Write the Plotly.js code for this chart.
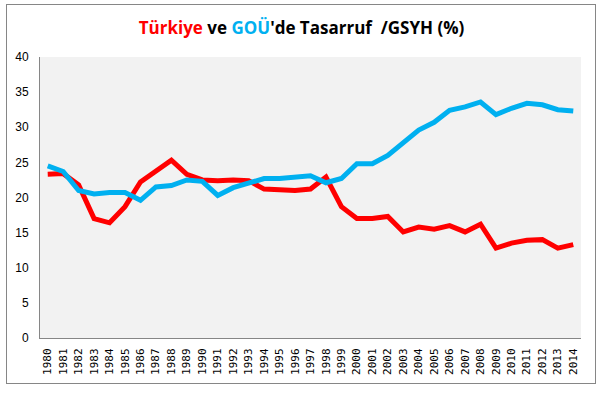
<!DOCTYPE html>
<html>
<head>
<meta charset="utf-8">
<script src="https://cdn.plot.ly/plotly-3.0.1.min.js"></script>
<style>
body{margin:0;padding:0;background:#fff;}
#wrap{position:relative;width:603px;height:397px;}
#chart{width:603px;height:397px;}
#frame{position:absolute;left:6px;top:4px;width:588px;height:378px;border:1px solid #868686;pointer-events:none;}
</style>
</head>
<body>
<div id="wrap"><div id="chart"></div><div id="frame"></div></div>
<script>
const years = ['1980','1981','1982','1983','1984','1985','1986','1987','1988','1989','1990','1991','1992','1993','1994','1995','1996','1997','1998','1999','2000','2001','2002','2003','2004','2005','2006','2007','2008','2009','2010','2011','2012','2013','2014'];
const turkiye = [23.3,23.4,21.8,17.0,16.4,18.7,22.2,23.7,25.3,23.3,22.5,22.4,22.5,22.4,21.2,21.1,21.0,21.2,22.9,18.7,17.0,17.0,17.3,15.1,15.8,15.5,16.0,15.1,16.2,12.8,13.5,13.9,14.0,12.8,13.3];
const gou = [24.5,23.7,21.0,20.5,20.7,20.7,19.6,21.5,21.7,22.5,22.3,20.3,21.4,22.0,22.7,22.7,22.9,23.1,22.1,22.7,24.8,24.8,26.0,27.9,29.6,30.7,32.4,32.9,33.6,31.8,32.7,33.4,33.2,32.5,32.3];
const yTicks = [0,5,10,15,20,25,30,35,40];

const traces = [
  {x: years, y: turkiye, type:'scatter', mode:'lines', name:'Türkiye',
   line:{color:'#FF0000', width:5, shape:'linear'}},
  {x: years, y: gou, type:'scatter', mode:'lines', name:'GOÜ',
   line:{color:'#00B0F0', width:5, shape:'linear'}}
];

const layout = {
  width:603, height:397,
  margin:{l:40, r:22, t:57, b:59},
  paper_bgcolor:'#ffffff',
  plot_bgcolor:'#F2F2F2',
  showlegend:false,
  title:{
    text:"<span style='color:#FF0000'>Türkiye</span> ve <span style='color:#00B0F0'>GOÜ</span>'de Tasarruf \u00a0/GSYH (%)",
    font:{family:'Open Sans', size:17, color:'#000000', weight:'bold'},
    x:0.5, xanchor:'center', y:0.93, yanchor:'middle'
  },
  xaxis:{
    type:'category',
    tickvals: years, ticktext: years,
    tickangle:-90,
    tickfont:{family:'DejaVu Sans Mono', size:11, color:'#000'},
    showgrid:false, zeroline:false,
    showline:true, linecolor:'#868686', linewidth:1,
    ticks:'', ticklabelstandoff:5,
    range:[-0.5, years.length-0.5],
    fixedrange:true
  },
  yaxis:{
    range:[0,40],
    tickvals: yTicks, ticktext: yTicks.map(String),
    tickfont:{family:'Liberation Sans', size:12, color:'#000'},
    showgrid:false, zeroline:false,
    showline:true, linecolor:'#868686', linewidth:1,
    ticks:'', ticklabelstandoff:8,
    fixedrange:true
  }
};

Plotly.newPlot('chart', traces, layout, {displayModeBar:false, staticPlot:true});
</script>
</body>
</html>
